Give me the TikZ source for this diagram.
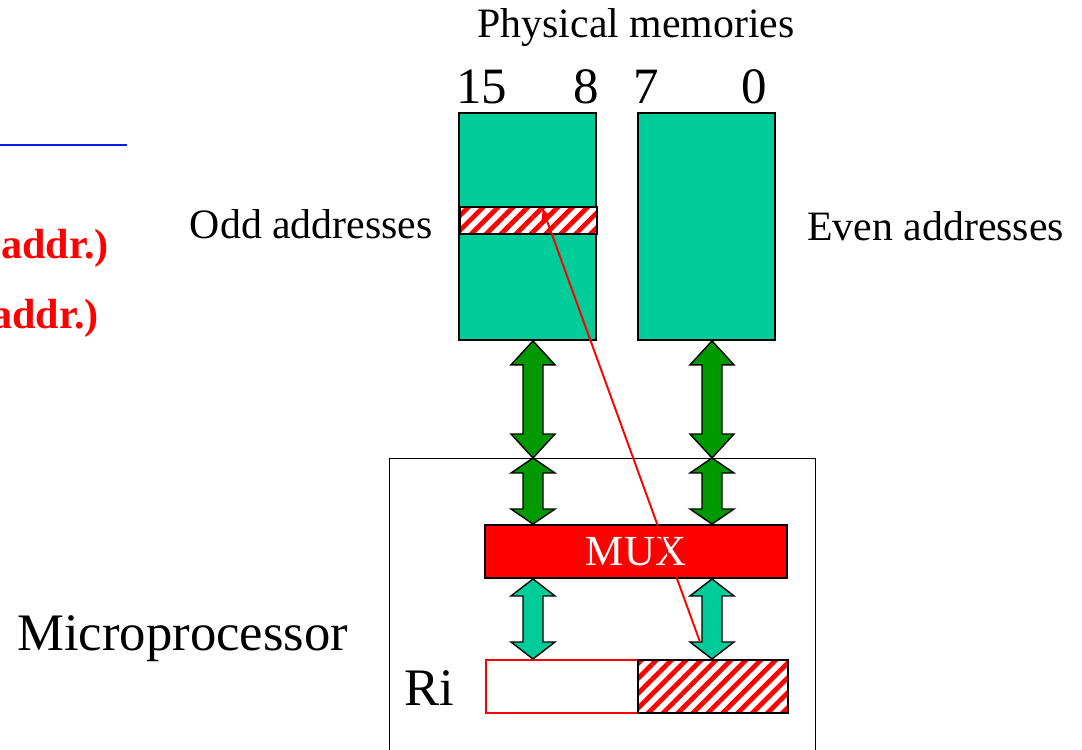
\documentclass[tikz,border=0pt]{standalone}
\usepackage{fontspec}
\setmainfont{Liberation Serif}
\usetikzlibrary{calc,patterns.meta,arrows.meta}

\definecolor{memteal}{RGB}{0,204,153}
\definecolor{busgreen}{RGB}{0,153,0}
\definecolor{linkblue}{RGB}{0,32,224}

\tikzset{
  membox/.style={draw=black, line width=1.1pt, fill=memteal, inner sep=0pt, anchor=north west},
  hatchbox/.style={draw=black, line width=1.1pt, inner sep=0pt, anchor=north west,
    preaction={fill=white}, pattern={Lines[angle=45,distance=6pt,line width=2.7pt]}, pattern color=red},
  bus/.style={draw=black, line width=0.8pt, line join=miter},
  label/.style={inner sep=0pt, font=\fontsize{23.8}{28}\selectfont},
  biglabel/.style={inner sep=0pt, font=\fontsize{30}{34}\selectfont},
  bitlabel/.style={inner sep=0pt, font=\fontsize{29}{33}\selectfont},
  redlabel/.style={inner sep=0pt, text=red, font=\fontsize{24}{28}\selectfont\bfseries}
}

% vertical double-headed bus arrow: fill colour, top end, bottom end, head length
\newcommand{\busarrow}[4]{%
  \draw[bus, fill=#1] let \p1=#2, \p2=#3 in
    (\x1,\y1) -- (\x1+0.44cm,\y1-#4) -- (\x1+0.2cm,\y1-#4) -- (\x1+0.2cm,\y2+#4)
    -- (\x1+0.44cm,\y2+#4) -- (\x1,\y2) -- (\x1-0.44cm,\y2+#4) -- (\x1-0.2cm,\y2+#4)
    -- (\x1-0.2cm,\y1-#4) -- (\x1-0.44cm,\y1-#4) -- cycle;
}

\begin{document}
\begin{tikzpicture}[x=0.02cm, y=-0.02cm]
  \useasboundingbox (0,0) rectangle (1082,750);

  % cut-off text on the left
  \draw[linkblue, line width=1.7pt] (0,145) -- (127,145);
  \node[redlabel, anchor=base east] (oddaddr) at (109,258) {addr.)};
  \node[redlabel, anchor=base east] (evenaddr) at (99,328) {addr.)};

  % memories
  \node[label, anchor=base] (phys) at (636,38) {Physical memories};
  \node[membox, minimum width=2.74cm, minimum height=4.54cm] (oddmem) at (458,112) {};
  \node[membox, minimum width=2.74cm, minimum height=4.54cm] (evenmem) at (637,112) {};
  \node[hatchbox, minimum width=2.74cm, minimum height=0.54cm] (oddbyte) at (458,205) {};
  \node[bitlabel, anchor=base west] (b15) at (456,104) {15};
  \node[bitlabel, anchor=base east] (b8) at (599,104) {8};
  \node[bitlabel, anchor=base west] (b7) at (633,104) {7};
  \node[bitlabel, anchor=base east] (b0) at (767,104) {0};
  \node[label, anchor=base east] (oddlbl) at (433,238) {Odd addresses};
  \node[label, anchor=base west] (evenlbl) at (807,240) {Even addresses};

  % microprocessor
  \node[draw=black, line width=0.85pt, inner sep=0pt, anchor=north west,
        minimum width=8.52cm, minimum height=6.4cm] (cpu) at (389,458) {};
  \node[biglabel, anchor=base west] (cpulbl) at (17,650) {Microprocessor};
  \node[draw=black, line width=1.1pt, fill=red, text=white, inner sep=0pt,
        minimum width=6.04cm, minimum height=1.06cm,
        font=\fontsize{24.4}{28}\selectfont] (mux) at (636,551.5) {MUX};
  \node[draw=red, line width=0.9pt, fill=white, inner sep=0pt, anchor=north west,
        minimum width=3.04cm, minimum height=1.06cm] (rilow) at (485,659) {};
  \node[hatchbox, minimum width=3.0cm, minimum height=1.06cm] (rihigh) at (637,659) {};
  \node[biglabel, anchor=base west] (rilbl) at (404,705) {Ri};

  % buses
  \coordinate (colL) at (533,0);
  \coordinate (colR) at (712,0);
  \foreach \mem/\col in {oddmem/colL, evenmem/colR} {
    \busarrow{busgreen}{(\mem.south -| \col)}{(cpu.north -| \col)}{0.48cm}
    \busarrow{busgreen}{(cpu.north -| \col)}{(mux.north -| \col)}{0.3cm}
    \busarrow{memteal}{(mux.south -| \col)}{(rilow.north -| \col)}{0.34cm}
  }

  % byte transfer
  \coordinate (lowbyte) at (700,642);
  \coordinate (highbyte) at (542,207);
  \draw[red, line width=1.1pt, -{Latex[length=0.24cm,width=0.2cm]}] (lowbyte) -- (highbyte);
\end{tikzpicture}
\end{document}
